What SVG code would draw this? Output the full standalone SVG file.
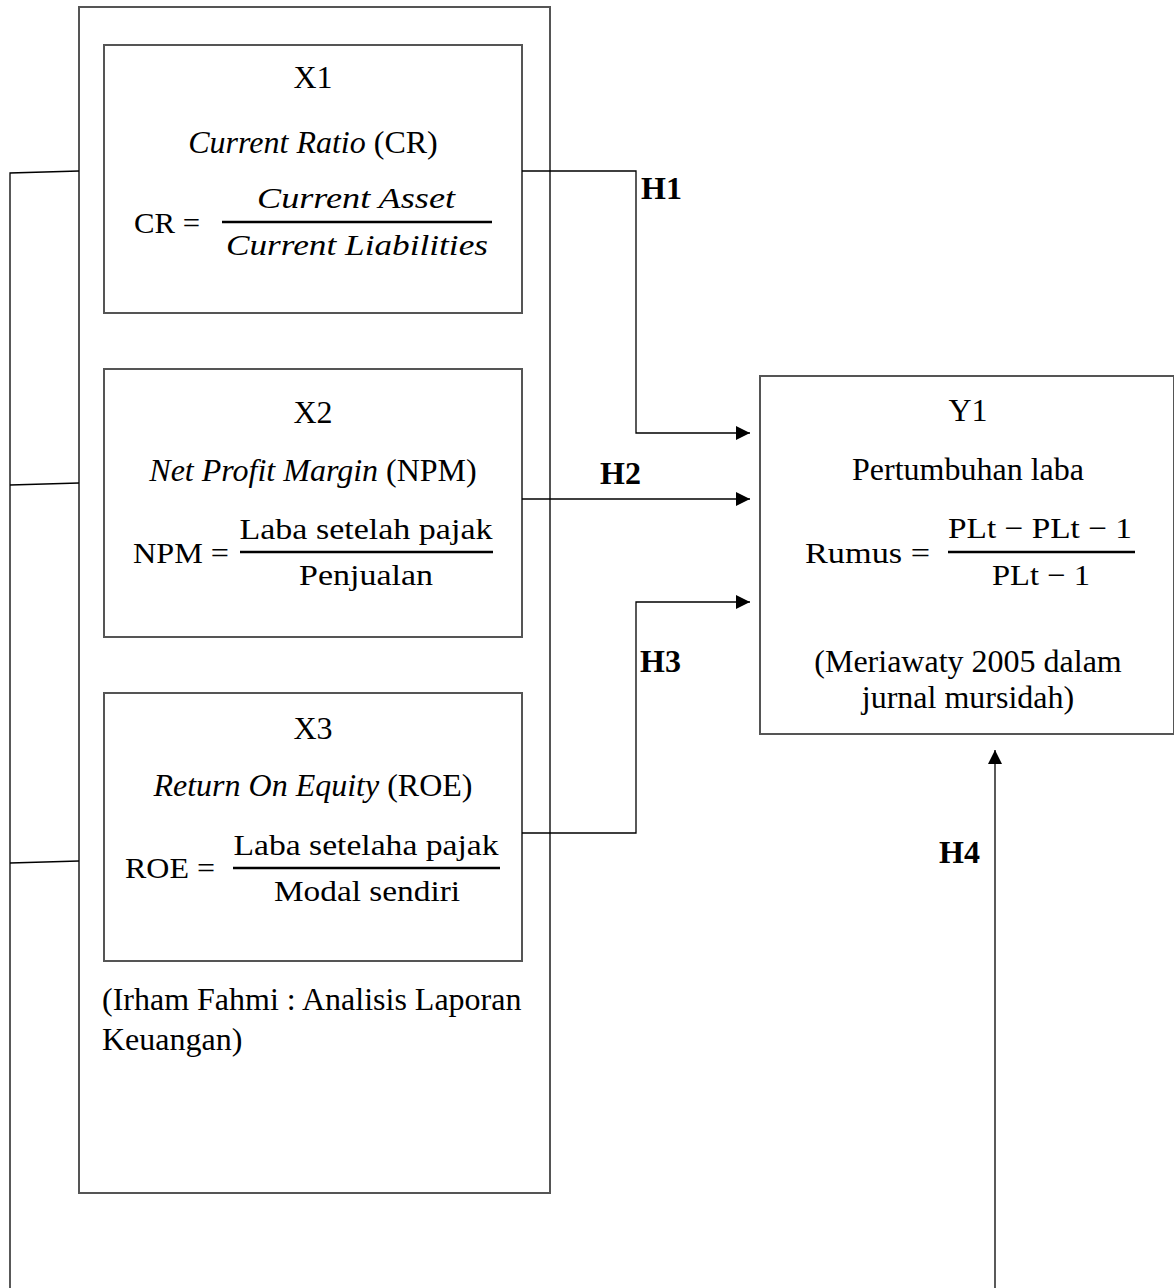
<svg xmlns="http://www.w3.org/2000/svg" width="1174" height="1288" viewBox="0 0 1174 1288">
<style>
.box{fill:#fff;stroke:#555;stroke-width:2}
.outer{fill:none;stroke:#555;stroke-width:2}
.t{font-family:"Liberation Serif","Times New Roman",serif;font-size:32px;fill:#000}
.c{text-anchor:middle}
.b{font-weight:bold}
.m{font-family:"Liberation Serif","Times New Roman",serif;font-size:29.5px;fill:#000}
.bar{stroke:#000;stroke-width:2.4}
.con{fill:none;stroke:#000;stroke-width:1.3}
</style>
<defs>
<marker id="arr" markerUnits="userSpaceOnUse" markerWidth="16" markerHeight="16" refX="14" refY="7" orient="auto">
<path d="M0,0 L14,7 L0,14 Z" fill="#000"/>
</marker>
</defs>
<rect width="1174" height="1288" fill="#fff"/>

<g id="outer">
<rect class="outer" x="79" y="7" width="471" height="1186"/>
<text class="t" x="102" y="1010">(Irham Fahmi : Analisis Laporan</text>
<text class="t" x="102" y="1050">Keuangan)</text>
</g>

<g id="x1">
<rect class="box" x="104" y="45" width="418" height="268"/>
<text class="t c" x="313" y="88">X1</text>
<text class="t c" x="313" y="153"><tspan font-style="italic">Current Ratio</tspan> (CR)</text>
<text class="m" x="134" y="233" textLength="66" lengthAdjust="spacingAndGlyphs">CR =</text>
<text class="m c" x="356" y="208" font-style="italic" textLength="198" lengthAdjust="spacingAndGlyphs">Current Asset</text>
<line class="bar" x1="222" y1="222" x2="492" y2="222"/>
<text class="m c" x="357" y="255" font-style="italic" textLength="262" lengthAdjust="spacingAndGlyphs">Current Liabilities</text>
</g>

<g id="x2">
<rect class="box" x="104" y="369" width="418" height="268"/>
<text class="t c" x="313" y="423">X2</text>
<text class="t c" x="313" y="481"><tspan font-style="italic">Net Profit Margin</tspan> (NPM)</text>
<text class="m" x="133" y="563" textLength="96" lengthAdjust="spacingAndGlyphs">NPM =</text>
<text class="m c" x="366" y="539" textLength="253" lengthAdjust="spacingAndGlyphs">Laba setelah pajak</text>
<line class="bar" x1="240" y1="552" x2="493" y2="552"/>
<text class="m c" x="366" y="585" textLength="134" lengthAdjust="spacingAndGlyphs">Penjualan</text>
</g>

<g id="x3">
<rect class="box" x="104" y="693" width="418" height="268"/>
<text class="t c" x="313" y="739">X3</text>
<text class="t c" x="313" y="796"><tspan font-style="italic">Return On Equity</tspan> (ROE)</text>
<text class="m" x="125" y="878" textLength="90" lengthAdjust="spacingAndGlyphs">ROE =</text>
<text class="m c" x="366" y="855" textLength="265" lengthAdjust="spacingAndGlyphs">Laba setelaha pajak</text>
<line class="bar" x1="233" y1="868" x2="500" y2="868"/>
<text class="m c" x="367" y="901" textLength="186" lengthAdjust="spacingAndGlyphs">Modal sendiri</text>
</g>

<g id="y1">
<rect class="box" x="760" y="376" width="414" height="358"/>
<text class="t c" x="968" y="421">Y1</text>
<text class="t c" x="968" y="480">Pertumbuhan laba</text>
<text class="m" x="805" y="563" textLength="125" lengthAdjust="spacingAndGlyphs">Rumus =</text>
<text class="m c" x="1040" y="538" textLength="184" lengthAdjust="spacingAndGlyphs">PLt − PLt − 1</text>
<line class="bar" x1="948" y1="552" x2="1135" y2="552"/>
<text class="m c" x="1041" y="585" textLength="98" lengthAdjust="spacingAndGlyphs">PLt − 1</text>
<text class="t c" x="968" y="672">(Meriawaty 2005 dalam</text>
<text class="t c" x="968" y="708">jurnal mursidah)</text>
</g>

<g id="connectors">
<path class="con" d="M79,171 L10,173 L10,1288"/>
<path class="con" d="M79,483 L10,485"/>
<path class="con" d="M79,861 L10,863"/>
<polyline class="con" points="522,171 636,171 636,433 750,433" marker-end="url(#arr)"/>
<line class="con" x1="522" y1="499" x2="750" y2="499" marker-end="url(#arr)"/>
<polyline class="con" points="522,833 636,833 636,602 750,602" marker-end="url(#arr)"/>
<line class="con" x1="995" y1="1288" x2="995" y2="750" marker-end="url(#arr)"/>
<text class="t b" x="641" y="199">H1</text>
<text class="t b" x="600" y="484">H2</text>
<text class="t b" x="640" y="672">H3</text>
<text class="t b" x="939" y="863">H4</text>
</g>
</svg>
